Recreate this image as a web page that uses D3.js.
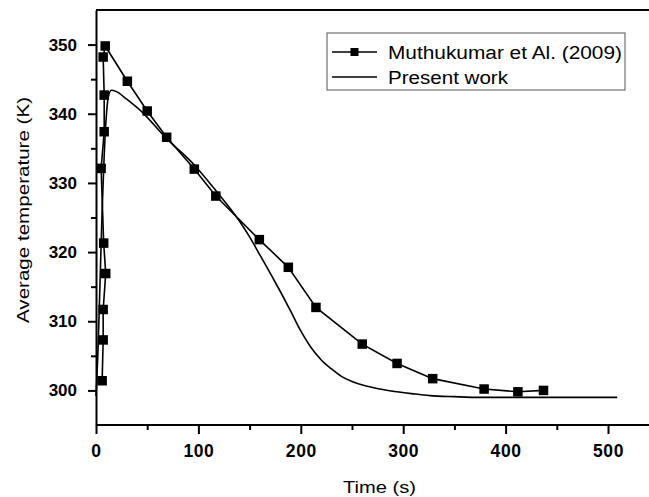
<!DOCTYPE html>
<html>
<head>
<meta charset="utf-8">
<script src="https://cdn.jsdelivr.net/npm/d3@7"></script>
<style>
  body { margin: 0; background: #fff; }
  svg { display: block; font-family: "Liberation Sans", Arial, sans-serif; }
</style>
</head>
<body>
<div id="chart"></div>
<script>
// chart size
const F_WIDTH = 649;
const F_HEIGHT = 497;
const MARGINS = {left: 96, top: 10, right: -10, bottom: 72};

// data
const muthTime = [6, 7, 7, 9.5, 7.5, 5, 8, 8, 7, 9, 30.6, 50, 69, 96, 117, 159.5, 187.8, 214.8, 260, 294, 328.8, 379, 412, 437];
const muthTemp = [301.4, 307.3, 311.7, 316.9, 321.3, 332.1, 337.4, 342.7, 348.2, 349.8, 344.7, 340.4, 336.6, 332.0, 328.1, 321.8, 317.8, 312.0, 306.7, 303.9, 301.7, 300.2, 299.8, 300.0];

const presTime = [0, 2, 4, 6, 8, 10, 12, 15, 20, 30, 46, 67, 96, 117, 140, 150, 160, 170, 180, 190, 200, 210, 220, 230, 240, 250, 262, 277, 294, 310, 326, 350, 375, 420, 509];
const presTemp = [299.2, 306, 316, 326, 334, 339.5, 342.4, 343.4, 343.2, 342.1, 340.1, 336.7, 332.6, 328.9, 324.5, 322.2, 319.6, 317.0, 314.3, 311.5, 308.6, 306.2, 304.4, 303.1, 302.0, 301.3, 300.7, 300.2, 299.8, 299.5, 299.25, 299.1, 299.0, 299.0, 299.0];

const seriesNames = ["Muthukumar et Al. (2009)", "Present work"];
const xTicks = [0, 100, 200, 300, 400, 500];
const xMinor = [50, 150, 250, 350, 450, 550];
const yTicks = [300, 310, 320, 330, 340, 350];
const yMinor = [305, 315, 325, 335, 345];

const VIS_WIDTH = F_WIDTH - MARGINS.left - MARGINS.right;
const VIS_HEIGHT = F_HEIGHT - MARGINS.top - MARGINS.bottom;

const svg = d3.select("#chart")
  .append("svg")
    .attr("width", F_WIDTH)
    .attr("height", F_HEIGHT);

const X_SCALE = d3.scaleLinear().domain([0, 550]).range([0, 563.2]);
const Y_SCALE = d3.scaleLinear().domain([295, 355]).range([VIS_HEIGHT, 0]);

const g = svg.append("g")
  .attr("transform", "translate(" + MARGINS.left + "," + MARGINS.top + ")");

// top frame line
g.append("line")
  .attr("x1", 0).attr("x2", F_WIDTH)
  .attr("y1", 0).attr("y2", 0)
  .attr("stroke", "#000").attr("stroke-width", 2);

// x axis, major + minor ticks
const xAxis = g.append("g")
  .attr("class", "xax")
  .attr("transform", "translate(0," + VIS_HEIGHT + ")")
  .call(d3.axisBottom(X_SCALE).tickValues(xTicks).tickSize(9).tickPadding(11).tickSizeOuter(0));
g.append("g")
  .attr("transform", "translate(0," + VIS_HEIGHT + ")")
  .call(d3.axisBottom(X_SCALE).tickValues(xMinor).tickSize(5).tickFormat("").tickSizeOuter(0))
  .select(".domain").remove();

// y axis
const yAxis = g.append("g")
  .call(d3.axisLeft(Y_SCALE).tickValues(yTicks).tickSize(8).tickPadding(11).tickSizeOuter(0));
g.append("g")
  .call(d3.axisLeft(Y_SCALE).tickValues(yMinor).tickSize(5).tickFormat("").tickSizeOuter(0))
  .select(".domain").remove();

svg.selectAll(".domain").attr("stroke-width", 2);
svg.selectAll(".tick line").attr("stroke-width", 2);
svg.selectAll(".tick text")
  .attr("font-family", "Liberation Sans, Arial, sans-serif")
  .attr("font-size", 17)
  .attr("font-weight", "bold")
  .attr("fill", "#000");
xAxis.selectAll(".tick text").attr("font-size", 17.5).attr("letter-spacing", 0.6);
xAxis.select(".domain").attr("d", "M0,0H" + (F_WIDTH));

// axis titles
svg.append("text")
  .attr("x", 343).attr("y", 493)
  .attr("font-size", 17)
  .attr("textLength", 73)
  .attr("lengthAdjust", "spacingAndGlyphs")
  .text("Time (s)");

svg.append("text")
  .attr("transform", "translate(29,323) rotate(-90)")
  .attr("font-size", 17)
  .attr("textLength", 226)
  .attr("lengthAdjust", "spacingAndGlyphs")
  .text("Average temperature (K)");

// lines
const muth = muthTime.map((t, i) => ({t: t, v: muthTemp[i]}));
const pres = presTime.map((t, i) => ({t: t, v: presTemp[i]}));

g.append("path")
  .datum(pres)
  .attr("fill", "none")
  .attr("stroke", "#000")
  .attr("stroke-width", 1.6)
  .attr("d", d3.line().x(d => X_SCALE(d.t)).y(d => Y_SCALE(d.v)).curve(d3.curveMonotoneX));

g.append("path")
  .datum(muth)
  .attr("fill", "none")
  .attr("stroke", "#000")
  .attr("stroke-width", 1.6)
  .attr("d", d3.line().x(d => X_SCALE(d.t)).y(d => Y_SCALE(d.v)));

const MS = 9.5;
g.selectAll(".mk")
  .data(muth)
  .enter()
  .append("rect")
    .attr("class", "mk")
    .attr("x", d => X_SCALE(d.t) - MS / 2)
    .attr("y", d => Y_SCALE(d.v) - MS / 2)
    .attr("width", MS)
    .attr("height", MS)
    .attr("fill", "#000");

// legend
const leg = svg.append("g").attr("transform", "translate(327,33)");
leg.append("rect")
  .attr("width", 298).attr("height", 57)
  .attr("fill", "#fff")
  .attr("stroke", "#555").attr("stroke-width", 1);
const legLen = [234, 120];
seriesNames.forEach((name, i) => {
  const cy = 19 + i * 25;
  leg.append("line")
    .attr("x1", 5).attr("x2", 50)
    .attr("y1", cy).attr("y2", cy)
    .attr("stroke", "#000").attr("stroke-width", 1.6);
  if (i === 0) {
    leg.append("rect")
      .attr("x", 27.5 - 4).attr("y", cy - 4)
      .attr("width", 8).attr("height", 8)
      .attr("fill", "#000");
  }
  leg.append("text")
    .attr("x", 61).attr("y", cy + 6.5)
    .attr("font-size", 18)
    .attr("textLength", legLen[i])
    .attr("lengthAdjust", "spacingAndGlyphs")
    .text(name);
});
</script>
</body>
</html>
